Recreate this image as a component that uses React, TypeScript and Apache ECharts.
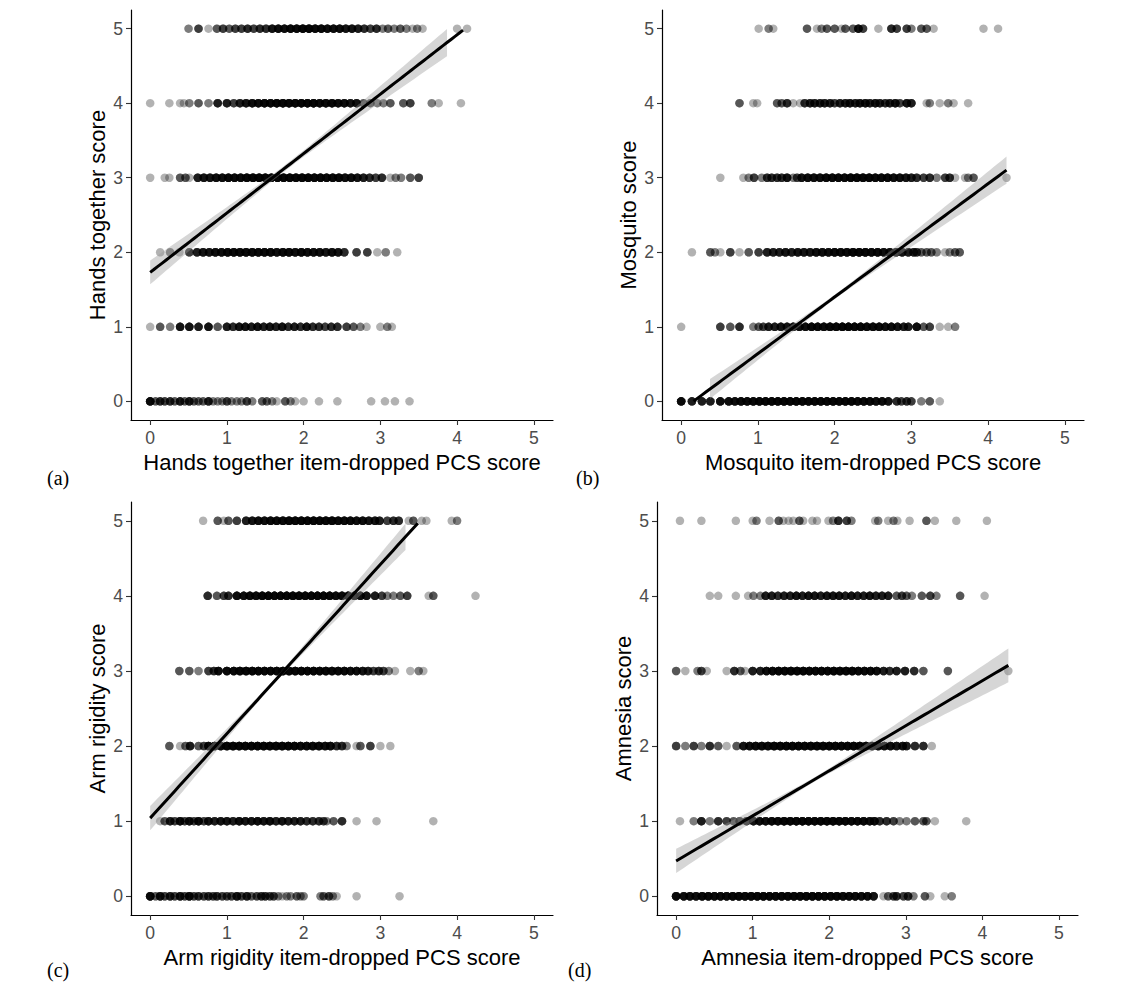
import React, { useEffect, useRef } from "react";
import * as echarts from "echarts";

// Each entry: [item-dropped PCS score, number of respondents plotted at that spot]
type Pt = [number, number];

// (a) Hands together
const handsTogether0: Pt[] = [[0,9],[0.07,3],[0.13,5],[0.19,4],[0.26,5],[0.32,3],[0.39,6],[0.45,3],[0.51,6],[0.57,3],[0.63,3],[0.69,3],[0.76,6],[0.82,2],[0.88,2],[0.94,2],[1.0,4],[1.06,2],[1.13,2],[1.19,2],[1.26,4],[1.33,2],[1.46,3],[1.52,3],[1.59,2],[1.65,1],[1.76,3],[1.83,2],[1.89,1],[2.0,1],[2.2,1],[2.44,1],[2.88,1],[3.06,1],[3.19,1],[3.38,1]];
const handsTogether1: Pt[] = [[0,1],[0.13,3],[0.26,2],[0.39,7],[0.51,7],[0.63,6],[0.76,7],[0.88,3],[1.0,6],[1.08,5],[1.16,7],[1.24,7],[1.32,6],[1.4,7],[1.48,6],[1.56,7],[1.64,6],[1.72,7],[1.8,5],[1.88,6],[1.96,5],[2.04,7],[2.12,5],[2.2,5],[2.28,4],[2.36,5],[2.44,5],[2.56,4],[2.65,3],[2.74,2],[2.82,1],[3.0,1],[3.09,2],[3.15,1]];
const handsTogether2: Pt[] = [[0.13,1],[0.26,2],[0.38,1],[0.51,4],[0.61,6],[0.69,7],[0.77,7],[0.85,8],[0.93,8],[1.01,9],[1.09,9],[1.17,9],[1.25,9],[1.33,9],[1.41,9],[1.49,9],[1.57,9],[1.65,8],[1.73,9],[1.81,9],[1.89,8],[1.97,9],[2.05,8],[2.13,8],[2.21,8],[2.29,7],[2.37,8],[2.45,7],[2.53,5],[2.69,4],[2.83,4],[2.96,1],[3.07,2],[3.22,1]];
const handsTogether3: Pt[] = [[0,1],[0.19,1],[0.25,1],[0.39,3],[0.46,3],[0.51,1],[0.62,6],[0.7,7],[0.78,7],[0.86,8],[0.94,8],[1.02,9],[1.1,9],[1.18,9],[1.26,10],[1.34,10],[1.42,10],[1.5,10],[1.58,10],[1.66,10],[1.74,10],[1.82,10],[1.9,10],[1.98,10],[2.06,10],[2.14,10],[2.22,10],[2.3,9],[2.38,9],[2.46,9],[2.54,8],[2.62,8],[2.7,7],[2.78,6],[2.86,5],[2.94,4],[3.02,5],[3.13,1],[3.2,2],[3.27,2],[3.39,3],[3.5,4]];
const handsTogether4: Pt[] = [[0,1],[0.25,1],[0.39,1],[0.44,1],[0.51,2],[0.63,3],[0.76,2],[0.88,6],[1.0,6],[1.09,4],[1.17,6],[1.25,7],[1.33,8],[1.41,8],[1.49,9],[1.57,9],[1.65,10],[1.73,10],[1.81,10],[1.89,10],[1.97,10],[2.05,10],[2.13,10],[2.21,9],[2.29,9],[2.37,9],[2.45,8],[2.53,8],[2.61,7],[2.69,7],[2.78,3],[2.87,3],[2.96,2],[3.04,2],[3.13,3],[3.3,3],[3.39,4],[3.67,2],[3.76,1],[4.05,1]];
const handsTogether5: Pt[] = [[0.5,2],[0.63,4],[0.76,1],[0.87,3],[0.95,4],[1.03,3],[1.11,4],[1.19,4],[1.27,5],[1.35,4],[1.43,5],[1.51,5],[1.59,7],[1.67,8],[1.75,8],[1.83,9],[1.91,9],[1.99,10],[2.07,10],[2.15,9],[2.23,9],[2.31,8],[2.39,8],[2.47,8],[2.55,7],[2.63,7],[2.71,6],[2.79,5],[2.87,4],[2.95,5],[3.03,2],[3.1,3],[3.18,2],[3.26,3],[3.34,2],[3.42,1],[3.48,2],[3.55,1],[4.0,1],[4.13,1]];

// (b) Mosquito
const mosquito0: Pt[] = [[0,9],[0.14,6],[0.27,6],[0.38,6],[0.51,8],[0.62,8],[0.7,8],[0.78,9],[0.86,9],[0.94,9],[1.02,10],[1.1,10],[1.18,10],[1.26,10],[1.34,10],[1.42,10],[1.5,10],[1.58,10],[1.66,10],[1.74,10],[1.82,10],[1.9,10],[1.98,10],[2.06,10],[2.14,10],[2.22,10],[2.3,9],[2.38,9],[2.46,9],[2.54,8],[2.62,8],[2.7,7],[2.81,5],[2.87,4],[2.94,5],[3.0,4],[3.13,2],[3.24,3],[3.37,1]];
const mosquito1: Pt[] = [[0,1],[0.51,4],[0.64,3],[0.76,5],[0.94,2],[1.01,3],[1.07,4],[1.14,6],[1.22,6],[1.3,7],[1.38,7],[1.46,8],[1.54,8],[1.62,8],[1.7,9],[1.78,9],[1.86,9],[1.94,10],[2.02,10],[2.1,10],[2.18,10],[2.26,10],[2.34,10],[2.42,9],[2.5,9],[2.58,9],[2.66,8],[2.74,8],[2.82,7],[2.9,6],[2.96,6],[3.07,8],[3.16,3],[3.24,4],[3.37,1],[3.48,1],[3.57,2]];
const mosquito2: Pt[] = [[0.14,1],[0.38,3],[0.44,2],[0.51,1],[0.64,4],[0.76,1],[0.88,3],[1.01,4],[1.12,6],[1.2,6],[1.28,6],[1.36,7],[1.44,6],[1.52,7],[1.6,7],[1.68,7],[1.76,8],[1.84,8],[1.92,8],[2.0,9],[2.08,9],[2.16,9],[2.24,10],[2.32,10],[2.4,10],[2.48,9],[2.56,9],[2.64,8],[2.72,8],[2.8,7],[2.88,7],[2.96,6],[3.03,6],[3.07,5],[3.13,3],[3.2,3],[3.26,3],[3.33,2],[3.44,1],[3.5,2],[3.57,3],[3.63,3]];
const mosquito3: Pt[] = [[0.51,1],[0.81,1],[0.88,2],[0.95,4],[1.05,2],[1.12,5],[1.18,5],[1.25,5],[1.31,5],[1.38,7],[1.46,2],[1.51,4],[1.57,7],[1.65,8],[1.73,8],[1.81,8],[1.89,9],[1.97,9],[2.05,9],[2.13,9],[2.21,10],[2.29,10],[2.37,10],[2.45,10],[2.53,9],[2.61,9],[2.69,9],[2.77,8],[2.85,8],[2.93,7],[3.0,6],[3.07,5],[3.16,4],[3.24,5],[3.33,2],[3.44,4],[3.5,5],[3.57,1],[3.7,1],[3.74,2],[3.81,3],[4.24,1]];
const mosquito4: Pt[] = [[0.76,3],[0.94,1],[0.99,1],[1.25,3],[1.31,3],[1.38,5],[1.46,1],[1.55,1],[1.61,5],[1.68,6],[1.74,6],[1.81,6],[1.87,6],[1.94,6],[2.0,4],[2.07,6],[2.14,6],[2.2,7],[2.27,6],[2.33,7],[2.4,7],[2.46,6],[2.53,7],[2.59,6],[2.66,5],[2.72,6],[2.79,7],[2.85,4],[2.94,7],[3.0,6],[3.2,1],[3.24,2],[3.37,1],[3.48,2],[3.55,1],[3.74,1]];
const mosquito5: Pt[] = [[1.01,1],[1.14,2],[1.2,1],[1.64,3],[1.77,1],[1.83,2],[1.9,3],[2.0,3],[2.09,1],[2.14,3],[2.24,3],[2.31,7],[2.37,4],[2.57,1],[2.74,5],[2.81,4],[2.94,4],[3.0,2],[3.13,3],[3.2,3],[3.29,1],[3.94,1],[4.13,1]];

// (c) Arm rigidity
const armRigidity0: Pt[] = [[0,9],[0.07,3],[0.13,7],[0.19,4],[0.26,6],[0.32,4],[0.39,7],[0.45,4],[0.51,8],[0.57,4],[0.63,5],[0.7,4],[0.76,5],[0.82,4],[0.87,5],[0.94,4],[1.0,4],[1.06,4],[1.13,7],[1.19,4],[1.26,6],[1.32,3],[1.39,4],[1.45,5],[1.5,5],[1.56,4],[1.61,4],[1.67,2],[1.72,1],[1.78,2],[1.83,2],[1.91,3],[1.96,2],[2.0,2],[2.22,2],[2.26,3],[2.33,4],[2.38,2],[2.43,1],[2.69,1],[3.25,1]];
const armRigidity1: Pt[] = [[0.13,1],[0.19,3],[0.26,6],[0.32,4],[0.39,8],[0.45,4],[0.51,7],[0.57,4],[0.63,8],[0.7,4],[0.76,7],[0.84,6],[0.92,7],[1.0,7],[1.08,6],[1.16,8],[1.24,7],[1.32,7],[1.4,8],[1.48,7],[1.56,8],[1.64,6],[1.72,7],[1.8,6],[1.88,6],[1.96,6],[2.04,5],[2.12,5],[2.2,5],[2.26,4],[2.3,2],[2.39,3],[2.5,5],[2.69,1],[2.95,1],[3.69,1]];
const armRigidity2: Pt[] = [[0.25,3],[0.39,1],[0.46,3],[0.52,6],[0.63,3],[0.7,4],[0.76,8],[0.84,9],[0.92,9],[1.0,10],[1.08,10],[1.16,10],[1.24,10],[1.32,10],[1.4,10],[1.48,10],[1.56,10],[1.64,10],[1.72,10],[1.8,10],[1.88,10],[1.96,9],[2.04,9],[2.12,9],[2.2,9],[2.28,8],[2.35,8],[2.43,5],[2.5,5],[2.56,2],[2.69,1],[2.74,3],[2.87,4],[3.0,1],[3.13,1]];
const armRigidity3: Pt[] = [[0.38,3],[0.51,3],[0.63,2],[0.76,4],[0.83,5],[0.89,8],[1.0,9],[1.09,9],[1.17,10],[1.25,10],[1.33,10],[1.41,10],[1.49,10],[1.57,10],[1.65,10],[1.73,10],[1.81,10],[1.89,10],[1.97,10],[2.05,10],[2.13,10],[2.21,10],[2.29,10],[2.37,9],[2.45,9],[2.53,9],[2.61,8],[2.69,8],[2.77,7],[2.84,6],[2.91,4],[2.98,5],[3.04,4],[3.11,2],[3.19,1],[3.39,1],[3.5,2],[3.56,1]];
const armRigidity4: Pt[] = [[0.75,5],[0.87,3],[0.96,4],[1.02,5],[1.13,8],[1.22,8],[1.3,9],[1.38,9],[1.46,10],[1.54,10],[1.62,10],[1.7,10],[1.78,10],[1.86,10],[1.94,10],[2.02,10],[2.1,10],[2.18,10],[2.26,10],[2.34,10],[2.42,9],[2.5,9],[2.58,9],[2.66,8],[2.74,8],[2.82,7],[2.93,6],[3.02,4],[3.09,2],[3.17,2],[3.26,3],[3.35,4],[3.63,1],[3.69,3],[4.24,1]];
const armRigidity5: Pt[] = [[0.69,1],[0.88,3],[0.96,1],[1.02,3],[1.13,4],[1.25,6],[1.33,7],[1.41,8],[1.49,8],[1.57,9],[1.65,9],[1.73,9],[1.81,10],[1.89,10],[1.97,10],[2.05,10],[2.13,10],[2.21,10],[2.29,10],[2.37,10],[2.45,9],[2.53,9],[2.61,9],[2.69,8],[2.77,8],[2.85,7],[2.93,7],[2.99,6],[3.09,4],[3.17,5],[3.24,5],[3.37,1],[3.43,3],[3.54,1],[3.6,1],[3.93,1],[4.0,2]];

// (d) Amnesia
const amnesia0: Pt[] = [[0,9],[0.1,8],[0.18,8],[0.26,8],[0.34,9],[0.42,9],[0.5,9],[0.58,9],[0.66,9],[0.74,10],[0.82,10],[0.9,10],[0.98,10],[1.06,10],[1.14,10],[1.22,10],[1.3,10],[1.38,10],[1.46,10],[1.54,10],[1.62,10],[1.7,10],[1.78,10],[1.86,10],[1.94,10],[2.02,10],[2.1,10],[2.18,9],[2.26,9],[2.34,9],[2.42,8],[2.5,8],[2.58,7],[2.71,1],[2.77,3],[2.84,4],[2.88,5],[2.97,4],[3.03,5],[3.1,2],[3.25,3],[3.32,1],[3.51,1],[3.6,2]];
const amnesia1: Pt[] = [[0.05,1],[0.23,2],[0.33,6],[0.44,2],[0.55,5],[0.66,4],[0.75,3],[0.83,4],[0.92,5],[1.01,7],[1.09,8],[1.17,8],[1.25,9],[1.33,9],[1.41,10],[1.49,10],[1.57,10],[1.65,10],[1.73,10],[1.81,10],[1.89,10],[1.97,10],[2.05,10],[2.13,10],[2.21,10],[2.29,9],[2.37,9],[2.45,9],[2.53,8],[2.59,8],[2.66,5],[2.75,5],[2.84,4],[2.92,2],[3.01,2],[3.12,3],[3.23,3],[3.27,3],[3.38,1],[3.79,1]];
const amnesia2: Pt[] = [[0,4],[0.12,2],[0.23,4],[0.33,2],[0.44,5],[0.55,3],[0.66,1],[0.79,3],[0.88,7],[0.96,8],[1.04,9],[1.12,9],[1.2,9],[1.28,10],[1.36,10],[1.44,10],[1.52,10],[1.6,10],[1.68,10],[1.76,10],[1.84,10],[1.92,10],[2.0,10],[2.08,10],[2.16,10],[2.24,10],[2.32,10],[2.4,10],[2.48,9],[2.56,9],[2.64,9],[2.72,8],[2.8,8],[2.88,7],[2.96,7],[3.01,6],[3.12,5],[3.23,5],[3.34,1]];
const amnesia3: Pt[] = [[0,3],[0.12,1],[0.28,2],[0.33,4],[0.4,1],[0.66,1],[0.76,5],[0.84,3],[0.9,1],[1.0,6],[1.1,6],[1.18,8],[1.26,9],[1.34,10],[1.42,10],[1.5,10],[1.58,10],[1.66,10],[1.74,10],[1.82,10],[1.9,10],[1.98,10],[2.06,10],[2.14,10],[2.22,10],[2.3,10],[2.38,9],[2.46,9],[2.54,9],[2.62,8],[2.71,6],[2.79,5],[2.88,6],[2.99,6],[3.11,5],[3.23,3],[3.55,3],[4.34,1]];
const amnesia4: Pt[] = [[0.44,1],[0.55,1],[0.78,1],[0.94,1],[1.01,2],[1.1,2],[1.17,6],[1.25,6],[1.33,5],[1.41,6],[1.49,6],[1.57,7],[1.65,6],[1.73,7],[1.81,7],[1.89,6],[1.97,7],[2.05,7],[2.13,7],[2.21,6],[2.29,7],[2.37,6],[2.45,6],[2.53,7],[2.61,6],[2.69,6],[2.77,6],[2.88,3],[2.95,4],[3.01,3],[3.08,2],[3.21,3],[3.32,4],[3.4,2],[3.71,3],[4.03,1]];
const amnesia5: Pt[] = [[0.05,1],[0.33,1],[0.78,1],[1.0,1],[1.05,2],[1.22,1],[1.34,3],[1.4,1],[1.47,1],[1.53,1],[1.61,3],[1.66,1],[1.78,1],[1.84,1],[1.99,1],[2.05,2],[2.12,5],[2.23,4],[2.29,2],[2.6,1],[2.64,2],[2.77,1],[2.84,2],[2.89,1],[3.05,1],[3.27,3],[3.38,1],[3.66,1],[4.06,1]];

const panelRows: Pt[][][] = [
  [handsTogether0, handsTogether1, handsTogether2, handsTogether3, handsTogether4, handsTogether5],
  [mosquito0, mosquito1, mosquito2, mosquito3, mosquito4, mosquito5],
  [armRigidity0, armRigidity1, armRigidity2, armRigidity3, armRigidity4, armRigidity5],
  [amnesia0, amnesia1, amnesia2, amnesia3, amnesia4, amnesia5],
];

// Linear fits (score ~ item-dropped PCS) and the half-width of their 95% band
const fitIntercept = [1.73, -0.12, 1.04, 0.47];
const fitSlope = [0.797, 0.76, 1.126, 0.6];
const bandCentre = [1.8, 2.0, 1.6, 1.8];
const bandHalfAtCentre = [0.04, 0.03, 0.03, 0.03];
const bandGrowth = [0.086, 0.08, 0.1, 0.088];

const tickValues = [0, 1, 2, 3, 4, 5];
const xTitles = [
  "Hands together item-dropped PCS score",
  "Mosquito item-dropped PCS score",
  "Arm rigidity item-dropped PCS score",
  "Amnesia item-dropped PCS score",
];
const yTitles = ["Hands together score", "Mosquito score", "Arm rigidity score", "Amnesia score"];
const panelTags = ["(a)", "(b)", "(c)", "(d)"];

// Page layout of the four panels
const gridBoxes = [
  { left: 131, top: 10, width: 422, height: 410 },
  { left: 662, top: 10, width: 422, height: 410 },
  { left: 131, top: 502, width: 422, height: 413 },
  { left: 657, top: 502, width: 421, height: 413 },
];
const tagPositions = [
  [47, 478],
  [576, 478],
  [47, 970],
  [568, 970],
];

const SANS = "'Liberation Sans', Arial, Helvetica, sans-serif";
const SERIF = "'Liberation Serif', 'Times New Roman', Times, serif";
const SCALE_MIN = 0;
const SCALE_MAX = 5;
const STEPS = 80;

function buildPanel(p: number) {
  const rows = panelRows[p];
  const points: number[][] = [];
  let xMin = Infinity;
  let xMax = -Infinity;
  rows.forEach((row, score) => {
    row.forEach(([x, n]) => {
      xMin = Math.min(xMin, x);
      xMax = Math.max(xMax, x);
      for (let k = 0; k < n; k++) points.push([x, score]);
    });
  });

  // Fit and band are evaluated across the observed range; parts falling
  // outside the 0-5 score scale are dropped.
  const fitLine: number[][] = [];
  const band: { x: number; lo: number; hi: number }[] = [];
  for (let i = 0; i < STEPS; i++) {
    const x = xMin + ((xMax - xMin) * i) / (STEPS - 1);
    const y = fitIntercept[p] + fitSlope[p] * x;
    const d = x - bandCentre[p];
    const h = Math.sqrt(bandHalfAtCentre[p] ** 2 + (bandGrowth[p] * d) ** 2);
    if (y >= SCALE_MIN && y <= SCALE_MAX) fitLine.push([x, y]);
    if (y - h >= SCALE_MIN && y + h <= SCALE_MAX) band.push({ x, lo: y - h, hi: y + h });
  }
  return { points, fitLine, band };
}

export default function App() {
  const ref = useRef<HTMLDivElement>(null);

  useEffect(() => {
    if (!ref.current) return;
    const chart = echarts.init(ref.current, undefined, { renderer: "svg" });

    const grids: any[] = [];
    const xAxes: any[] = [];
    const yAxes: any[] = [];
    const series: any[] = [];
    const graphics: any[] = [];

    for (let p = 0; p < 4; p++) {
      const { points, fitLine, band } = buildPanel(p);
      grids.push({ ...gridBoxes[p], containLabel: false });

      const axisCommon = {
        gridIndex: p,
        type: "value",
        min: -0.25,
        max: 5.25,
        splitLine: { show: false },
        axisLine: { show: true, onZero: false, lineStyle: { color: "#000", width: 1.2 } },
        axisTick: {
          show: true,
          customValues: tickValues,
          length: 5,
          lineStyle: { color: "#333", width: 1.1 },
        },
        nameLocation: "middle",
        nameTextStyle: { color: "#000", fontSize: 22, fontFamily: SANS },
      };

      xAxes.push({
        ...axisCommon,
        name: xTitles[p],
        nameGap: 31,
        axisLabel: {
          customValues: tickValues,
          margin: 9,
          color: "#4d4d4d",
          fontSize: 17.6,
          fontFamily: SANS,
        },
      });
      yAxes.push({
        ...axisCommon,
        name: yTitles[p],
        nameGap: 23,
        nameRotate: 90,
        axisLabel: {
          customValues: tickValues,
          margin: 8,
          color: "#4d4d4d",
          fontSize: 17.6,
          fontFamily: SANS,
        },
      });

      series.push({
        type: "scatter",
        xAxisIndex: p,
        yAxisIndex: p,
        data: points,
        symbol: "circle",
        symbolSize: 8.5,
        itemStyle: { color: "#000", opacity: 0.3 },
        silent: true,
        progressive: 0,
        large: false,
        z: 2,
      });

      series.push({
        type: "custom",
        xAxisIndex: p,
        yAxisIndex: p,
        coordinateSystem: "cartesian2d",
        data: [[band.length ? band[0].x : 0, band.length ? band[0].lo : 0]],
        silent: true,
        z: 3,
        renderItem: (_params: any, api: any) => {
          const upper = band.map((b) => api.coord([b.x, b.hi]));
          const lower = band
            .slice()
            .reverse()
            .map((b) => api.coord([b.x, b.lo]));
          return {
            type: "polygon",
            shape: { points: [...upper, ...lower] },
            style: { fill: "rgba(153,153,153,0.4)", stroke: "none" },
          };
        },
      });

      series.push({
        type: "line",
        xAxisIndex: p,
        yAxisIndex: p,
        data: fitLine,
        showSymbol: false,
        symbol: "none",
        lineStyle: { color: "#000", width: 3 },
        silent: true,
        z: 4,
      });

      graphics.push({
        type: "text",
        x: tagPositions[p][0],
        y: tagPositions[p][1],
        style: {
          text: panelTags[p],
          fill: "#000",
          font: `20px ${SERIF}`,
          verticalAlign: "middle",
        },
      });
    }

    chart.setOption({
      animation: false,
      backgroundColor: "#fff",
      grid: grids,
      xAxis: xAxes,
      yAxis: yAxes,
      series,
      graphic: graphics,
    });

    return () => chart.dispose();
  }, []);

  return (
    <div
      ref={ref}
      style={{ position: "fixed", left: 0, top: 0, width: 1141, height: 995, background: "#fff" }}
    />
  );
}
